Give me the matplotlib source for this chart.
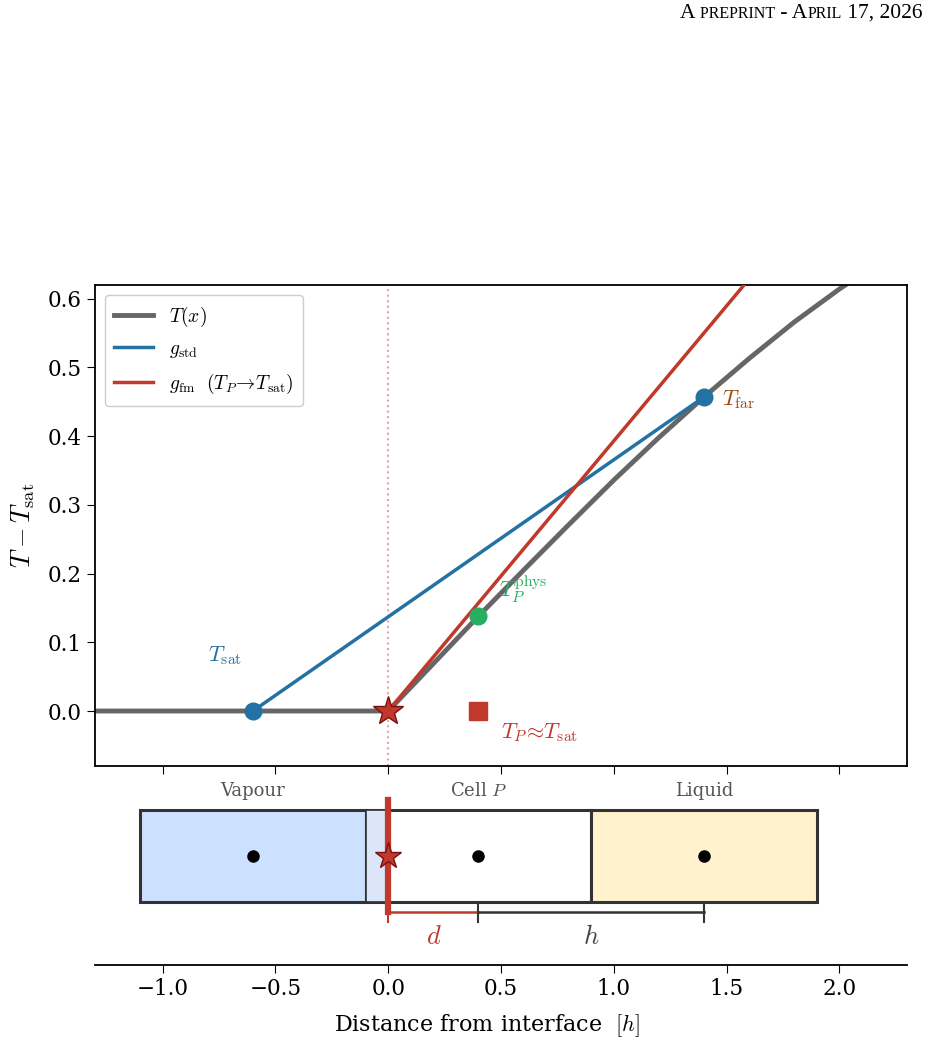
import matplotlib
matplotlib.use('Agg')
import matplotlib.pyplot as plt
import numpy as np

plt.rcParams['font.family'] = 'DejaVu Serif'
plt.rcParams['mathtext.fontset'] = 'cm'

# temperature profile
x_prof = [-1.3, -0.6, 0.0, 0.2, 0.4, 0.6, 0.8, 1.0, 1.2, 1.4, 1.6, 1.8, 2.0, 2.3]
t_prof = [0.0, 0.0, 0.0, 0.069, 0.138, 0.205, 0.271, 0.336, 0.398, 0.457, 0.513, 0.566, 0.614, 0.68]

# reconstructions
x_std = [-0.6, 1.4]
g_std = [0.0, 0.457]
x_fm = [0.0, 2.0]
g_fm = [0.0, 0.786]

x_sat, x_P, x_far = -0.6, 0.4, 1.4
t_phys = 0.138
t_far = 0.457

# cell strip
cell_left = [-1.1, -0.1, 0.9]
cell_width = 1.0
cell_fill = ['#cce0ff', 'white', '#fff2cc']
cell_names = ['Vapour', r'Cell $P$', 'Liquid']
cell_centres = [-0.6, 0.4, 1.4]

xticks = [-1.0, -0.5, 0.0, 0.5, 1.0, 1.5, 2.0]
yticks = [0.0, 0.1, 0.2, 0.3, 0.4, 0.5, 0.6]

c_gray = '#666666'
c_blue = '#2471a3'
c_red = '#c0392b'
c_green = '#27ae60'
c_brown = '#a04a10'

fig = plt.figure(figsize=(9.29, 10.45), dpi=100)
ax = fig.add_axes([0.1023, 0.2670, 0.874, 0.4603])
ax2 = fig.add_axes([0.1023, 0.0766, 0.874, 0.1818], sharex=ax)

ax.axvline(0, color=c_red, ls=':', lw=1.5, alpha=0.45, zorder=1)
ax.plot(x_prof, t_prof, color=c_gray, lw=3.5, label=r'$T(x)$', zorder=2)
ax.plot(x_std, g_std, color=c_blue, lw=2.5, label=r'$g_{\rm std}$', zorder=3)
ax.plot(x_fm, g_fm, color=c_red, lw=2.5,
        label=r'$g_{\rm fm}\ \ (T_P\!\to\!T_{\rm sat})$', zorder=3)

ax.plot([x_sat, x_far], [0.0, t_far], 'o', color=c_blue, ms=12, zorder=5)
ax.plot([x_P], [t_phys], 'o', color=c_green, ms=12, zorder=5)
ax.plot([x_P], [0.0], 's', color=c_red, ms=13, zorder=5)
ax.plot([0.0], [0.0], '*', color=c_red, mec='#7b1010', mew=1, ms=22, zorder=6)

ax.text(-0.8, 0.072, r'$T_{\rm sat}$', color=c_blue, fontsize=16)
ax.text(0.49, 0.165, r'$T_P^{\rm phys}$', color=c_green, fontsize=16)
ax.text(0.5, -0.04, r'$T_P\!\approx\!T_{\rm sat}$', color=c_red, fontsize=16)
ax.text(1.48, 0.445, r'$T_{\rm far}$', color=c_brown, fontsize=16)

ax.set_xlim(-1.3, 2.3)
ax.set_ylim(-0.08, 0.62)
ax.set_yticks(yticks)
ax.tick_params(labelsize=15.5, length=6, labelbottom=False)
ax.set_ylabel(r'$T - T_{\rm sat}$', fontsize=19, labelpad=8)
ax.legend(loc='upper left', fontsize=14, labelspacing=0.6, handlelength=2.0,
          borderpad=0.5, framealpha=1, edgecolor='#cccccc')
for s in ax.spines.values():
    s.set_linewidth(1.3)

# cell strip below
for left, fc in zip(cell_left, cell_fill):
    ax2.add_patch(plt.Rectangle((left, 0), cell_width, 1, fc=fc, ec='#333333',
                                lw=2.2, zorder=2))
ax2.add_patch(plt.Rectangle((-0.1, 0), 0.1, 1, fc='#dbe6f8', ec='#333333',
                            lw=1.2, zorder=2))
for xc, name in zip(cell_centres, cell_names):
    ax2.text(xc, 1.21, name, ha='center', va='center', color='#555555', fontsize=13)
ax2.plot(cell_centres, [0.5] * 3, 'o', color='black', ms=8, zorder=4)
ax2.plot([0, 0], [-0.11, 1.11], color=c_red, lw=4.5, zorder=5)
ax2.plot([0.0], [0.5], '*', color=c_red, mec='#7b1010', mew=1, ms=20, zorder=6)

ax2.plot([0.0, x_P], [-0.11, -0.11], color=c_red, lw=1.8, zorder=3)
ax2.plot([x_P, x_far], [-0.11, -0.11], color='#333333', lw=1.8, zorder=3)
for xb in [0.0, x_P, x_far]:
    ax2.plot([xb, xb], [0.0, -0.22], color='#333333' if xb else c_red, lw=1.5, zorder=3)
ax2.text(0.2, -0.38, r'$d$', color=c_red, ha='center', va='center', fontsize=19)
ax2.text(0.9, -0.38, r'$h$', color='#444444', ha='center', va='center', fontsize=19)

ax2.set_ylim(-0.685, 1.38)
ax2.set_xticks(xticks)
ax2.set_yticks([])
for s in ['left', 'right', 'top']:
    ax2.spines[s].set_visible(False)
ax2.spines['bottom'].set_linewidth(1.3)
ax2.tick_params(labelsize=15.5, length=6)
ax2.set_xlabel(r'Distance from interface  $[h]$', fontsize=16)
ax2.xaxis.set_label_coords(0.483, -0.25)

# running header, fake small caps laid out on one baseline
pieces = [('A', 15.5), (' PREPRINT', 11.5), (' - A', 15.5), ('PRIL', 11.5), (' 17, 2026', 15.5)]
renderer = fig.canvas.get_renderer()
texts = []
for txt, size in pieces:
    texts.append(fig.text(0, 0.983, txt, ha='left', va='baseline', fontsize=size,
                          family='Liberation Serif'))
widths = [t.get_window_extent(renderer).width for t in texts]
x_right = 922.0
x_cur = x_right - sum(widths)
for t, w in zip(texts, widths):
    t.set_x(x_cur / fig.bbox.width)
    x_cur += w

fig.savefig('out.png', dpi=100)
